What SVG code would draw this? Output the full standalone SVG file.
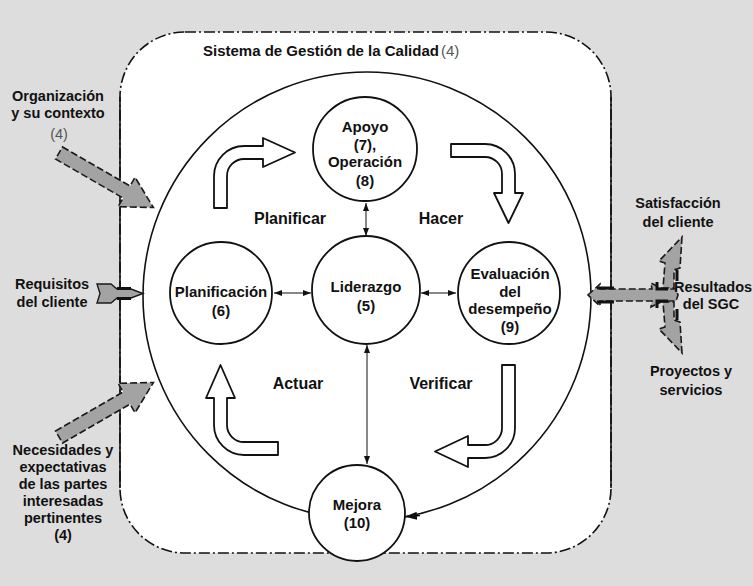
<svg xmlns="http://www.w3.org/2000/svg" width="753" height="586" viewBox="0 0 753 586">
<defs>
<style>
.t{font-family:"Liberation Sans",Arial,sans-serif;font-weight:bold;font-size:14.5px;fill:#111;text-anchor:middle}
.c{font-size:15px}
.cy{font-size:16px}
.n{font-weight:normal;fill:#555}
.node{fill:#fff;stroke:#111;stroke-width:1.8}
.hollow{fill:#fff;stroke:#111;stroke-width:1.8;stroke-linejoin:round}
.io{fill:#a3a3a3;stroke:#1a1a1a;stroke-width:1.6;stroke-dasharray:7 3}
.dark{stroke:#111;stroke-width:3;fill:none}
.link{stroke:#111;stroke-width:1;fill:none;marker-start:url(#ah);marker-end:url(#ah)}
</style>
<marker id="ah" viewBox="0 0 8 6" refX="8" refY="3" markerWidth="8" markerHeight="6" markerUnits="userSpaceOnUse" orient="auto-start-reverse">
<path d="M0,0 L8,3 L0,6 z" fill="#111"/>
</marker>
<marker id="ahbig" viewBox="0 0 12 8" refX="12" refY="4" markerWidth="12" markerHeight="8" markerUnits="userSpaceOnUse" orient="auto">
<path d="M0,0 L12,4 L0,8 z" fill="#111"/>
</marker>
</defs>
<rect x="0" y="0" width="753" height="586" fill="#dddddd"/>
<g id="frame">
<rect x="120" y="32" width="491" height="521" rx="65" ry="65" fill="#fff" stroke="#111" stroke-width="1.6" stroke-dasharray="11 3 2 3"/>
<line x1="120" y1="97" x2="120" y2="488" stroke="#111" stroke-width="1.6"/>
<line x1="611" y1="97" x2="611" y2="488" stroke="#111" stroke-width="1.6"/>
<text class="t" x="203" y="56" style="text-anchor:start;font-size:15px">Sistema de Gestión de la Calidad<tspan class="n" dx="2">(4)</tspan></text>
</g>
<g id="cycle">
<circle cx="367" cy="296" r="224" fill="none" stroke="#111" stroke-width="1.6"/>
<path d="M420,515.5 L405,516.8" fill="none" stroke="#111" stroke-width="1.6" marker-end="url(#ahbig)"/>
</g>
<g id="cycle-arrows">
<path class="hollow" d="M214,208 V176 A30,30 0 0 1 244,146 H263 V138 L295,152.5 L263,167 V159 H244 A17,17 0 0 0 227,176 V208 Z"/>
<path class="hollow" d="M451,144 H485 A30,30 0 0 1 515,174 V193 H523 L508.5,223 L494,193 H502 V174 A17,17 0 0 0 485,157 H451 Z"/>
<path class="hollow" d="M502,365 H515 V428 A30,30 0 0 1 485,458 H468 V467 L435,451.5 L468,436 V445 H485 A17,17 0 0 0 502,428 Z"/>
<path class="hollow" d="M278,455 H244 A30,30 0 0 1 214,425 V398 H206 L220.5,365 L235,398 H227 V425 A17,17 0 0 0 244,442 H278 Z"/>
<text class="t cy" x="290" y="224">Planificar</text>
<text class="t cy" x="441" y="224">Hacer</text>
<text class="t cy" x="298" y="389">Actuar</text>
<text class="t cy" x="441" y="389">Verificar</text>
</g>
<g id="connectors">
<line class="link" x1="366" y1="203" x2="366" y2="236"/>
<line class="link" x1="274" y1="293" x2="311" y2="293"/>
<line class="link" x1="421" y1="293" x2="456" y2="293"/>
<line class="link" x1="367" y1="345" x2="367" y2="464"/>
</g>
<g id="apoyo">
<circle class="node" cx="365" cy="149" r="52"/>
<text class="t c" x="365" y="132">Apoyo</text>
<text class="t c" x="365" y="150">(7),</text>
<text class="t c" x="365" y="167">Operación</text>
<text class="t c" x="365" y="186">(8)</text>
</g>
<g id="planificacion">
<circle class="node" cx="221" cy="293" r="51"/>
<text class="t c" x="221" y="297">Planificación</text>
<text class="t c" x="221" y="316">(6)</text>
</g>
<g id="liderazgo">
<circle class="node" cx="366" cy="290" r="54"/>
<text class="t c" x="366" y="292">Liderazgo</text>
<text class="t c" x="366" y="311">(5)</text>
</g>
<g id="evaluacion">
<circle class="node" cx="509" cy="293" r="51"/>
<text class="t c" x="510" y="279">Evaluación</text>
<text class="t c" x="510" y="297">del</text>
<text class="t c" x="510" y="314">desempeño</text>
<text class="t c" x="510" y="332">(9)</text>
</g>
<g id="mejora">
<circle class="node" cx="357" cy="513" r="48"/>
<text class="t c" x="357" y="510">Mejora</text>
<text class="t c" x="357" y="528">(10)</text>
</g>
<g id="io-arrows">
<polygon class="io" points="0,-7 78,-7 78,-17 109,0 78,17 78,7 0,7" transform="translate(59,153) rotate(30)"/>
<polygon class="io" points="0,-7 78,-7 78,-17 109,0 78,17 78,7 0,7" transform="translate(59,437) rotate(-30)"/>
<polygon points="97,284 111,284 117,289 131,289 143,293.5 131,298 117,298 111,303 97,303 100,293.5" fill="#a3a3a3" stroke="#1a1a1a" stroke-width="1.4"/>
<line class="dark" x1="117" y1="288.5" x2="131" y2="288.5"/>
<line class="dark" x1="117" y1="298.5" x2="131" y2="298.5"/>
<polygon class="io" points="682,237 680,268 674,270 674,288 663,288 665,263 659,261"/>
<polygon class="io" points="682,353 680,322 674,320 674,302 663,302 665,327 659,329"/>
<polygon class="io" points="588,295 600,284 600,289 652,289 651,283 663,289 676,289 678,295 676,301 663,301 651,307 652,301 600,301 600,306"/>
<line class="dark" x1="597" y1="288" x2="614" y2="288"/>
<line class="dark" x1="597" y1="302" x2="614" y2="302"/>
<path class="dark" d="M657,282 V289 H668 M677,270 V281 M657,308 V301 H668 M677,320 V309"/>
</g>
<g id="labels">
<text class="t" x="58" y="101">Organización</text>
<text class="t" x="58" y="118">y su contexto</text>
<text class="t n" x="59" y="139">(4)</text>
<text class="t" x="52" y="289">Requisitos</text>
<text class="t" x="52" y="307">del cliente</text>
<text class="t" x="63" y="455">Necesidades y</text>
<text class="t" x="63" y="472">expectativas</text>
<text class="t" x="63" y="489">de las partes</text>
<text class="t" x="63" y="506">interesadas</text>
<text class="t" x="63" y="523">pertinentes</text>
<text class="t" x="63" y="540">(4)</text>
<text class="t" x="678" y="208">Satisfacción</text>
<text class="t" x="678" y="227">del cliente</text>
<text class="t" x="713" y="292">Resultados</text>
<text class="t" x="711" y="309">del SGC</text>
<text class="t" x="691" y="376">Proyectos y</text>
<text class="t" x="691" y="395">servicios</text>
</g>
</svg>
